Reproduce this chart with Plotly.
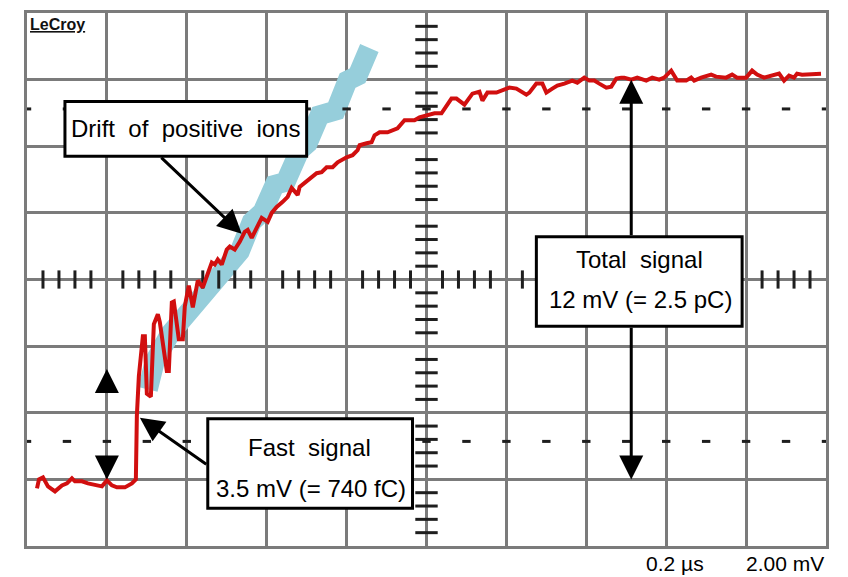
import numpy as np
import plotly.graph_objects as go

# ---------------- data (time in ns, 0.2 us/div; amplitude in mV, 2 mV/div) ----------------
t_signal = [25, 30, 40, 52.5, 70, 87.5, 100, 112.5, 120, 137.5, 152.5, 175, 187.5, 200, 212.5, 225, 245,
            262.5, 272.5,
            275, 280, 290, 295, 300, 310, 317.5, 327.5, 332.5, 350, 355, 362.5, 367.5, 380, 390, 395, 405,
            415, 427.5, 440,
            462.5, 470, 477.5, 487.5, 500, 507.5, 520, 532.5, 545, 552.5, 562.5, 575, 587.5, 595, 602.5,
            612.5, 625, 640, 652.5, 662.5, 670, 677.5, 682.5, 695, 707.5, 725, 737.5, 750,
            765, 777.5, 800, 815, 827.5, 832.5, 850, 862.5, 870, 882.5, 902.5, 915, 927.5, 945, 970, 982.5,
            1002.5, 1020, 1037.5, 1062.5, 1075, 1095, 1115, 1132.5, 1140, 1152.5, 1175, 1195, 1207.5, 1225,
            1250, 1257.5, 1275, 1290, 1300, 1315, 1327.5, 1345, 1365, 1377.5, 1395, 1407.5, 1420, 1432.5,
            1450, 1462.5, 1475, 1487.5, 1495, 1512.5, 1527.5, 1550, 1565, 1582.5, 1595, 1612.5, 1627.5,
            1650, 1662.5, 1670, 1687.5, 1712.5, 1725, 1750, 1765, 1777.5, 1800, 1815, 1827.5, 1845, 1870,
            1882.5, 1895, 1907.5, 1920, 1927.5, 1940, 1952.5, 1987.5]
v_signal = [-6.27, -6.00, -5.94, -6.21, -6.36, -6.18, -6.12, -5.97, -6.06, -6.06, -6.12, -6.18, -6.21, -6.03,
            -6.18, -6.24, -6.24, -6.12, -6.00,
            -4.09, -2.90, -1.70, -1.70, -3.43, -3.52, -1.34, -1.04, -1.28, -2.75, -2.75, -0.69, -0.66, -1.79,
            -1.79, -0.81, -0.18, -0.84, -0.03, -0.24,
            0.51, 0.45, 0.60, 0.45, 0.90, 0.99, 0.90, 1.13, 1.43, 1.49, 1.25, 1.58, 1.85, 1.79, 1.73,
            2.00, 2.18, 2.33, 2.48, 2.75, 2.63, 2.54, 2.78, 2.90, 2.99, 3.19, 3.22, 3.37,
            3.37, 3.52, 3.67, 3.73, 3.88, 4.03, 4.09, 4.12, 4.33, 4.42, 4.42, 4.48, 4.54, 4.78, 4.78, 4.87,
            4.93, 4.99, 4.99, 5.43, 5.43, 5.25, 5.58, 5.64, 5.37, 5.61, 5.61, 5.70, 5.76, 5.73,
            5.55, 5.61, 5.88, 5.88, 5.61, 5.73, 5.82, 5.88, 5.97, 5.91, 6.06, 5.97, 5.97, 5.88,
            5.76, 5.79, 6.03, 6.06, 6.06, 6.00, 6.06, 5.97, 6.06, 6.00, 6.06, 6.27, 5.97,
            5.97, 6.06, 5.97, 6.06, 6.15, 6.09, 6.06, 6.15, 6.06, 6.06, 6.27, 6.15, 6.06, 6.15,
            6.18, 5.97, 6.12, 6.06, 6.18, 6.15, 6.15, 6.18]

# light-blue drift curve (fit of positive-ion drift)
t_drift = [302.5, 320, 357.5, 407.5, 470, 532.5, 562.5, 590, 620, 647.5, 682.5, 702.5, 732.5, 772.5,
           802.5, 827.5, 857]
v_drift = [-3.30, -2.45, -1.64, -0.90, 0.00, 0.84, 1.73, 2.03, 2.84, 2.93, 3.88, 4.09, 4.93, 5.07,
           5.97, 6.12, 6.95]

cursor_levels = [5.12, -4.86]          # dashed cursor lines (mV)
time_label = "0.2 µs"
volt_label = "2.00 mV"

X_RANGE = [0, 2000]
Y_RANGE = [-8, 8]
X_DIV = 200
Y_DIV = 2

GRID = "#7b7b7b"
DARK = "#1e1e1e"
RED = "#d10f0f"
BLUE = "#96cedb"
FONT = "Liberation Sans, Arial, Helvetica, sans-serif"

fig = go.Figure()

# drift band
fig.add_trace(go.Scatter(x=t_drift, y=v_drift, mode="lines",
                         line=dict(color=BLUE, width=20), hoverinfo="skip"))

# minor ticks on the centre axes
x_mid = (X_RANGE[0] + X_RANGE[1]) / 2
y_mid = (Y_RANGE[0] + Y_RANGE[1]) / 2
xt = [X_RANGE[0] + k * X_DIV / 5 for k in range(1, 50) if k % 5 != 0]
yt = [Y_RANGE[0] + k * Y_DIV / 5 for k in range(1, 40) if k % 5 != 0]
fig.add_trace(go.Scatter(x=xt, y=[y_mid] * len(xt), mode="markers",
                         marker=dict(symbol="line-ns", size=13, line=dict(color=DARK, width=3)),
                         hoverinfo="skip"))
fig.add_trace(go.Scatter(x=[x_mid] * len(yt), y=yt, mode="markers",
                         marker=dict(symbol="line-ew", size=16, line=dict(color=DARK, width=3)),
                         hoverinfo="skip"))

# dashed cursor lines
xd = [X_RANGE[0] + k * X_DIV / 2 for k in range(0, 21)]
for lv in cursor_levels:
    fig.add_trace(go.Scatter(x=xd, y=[lv] * len(xd), mode="markers",
                             marker=dict(symbol="line-ew", size=6, line=dict(color=DARK, width=3)),
                             hoverinfo="skip"))

# signal trace
fig.add_trace(go.Scatter(x=t_signal, y=v_signal, mode="lines",
                         line=dict(color=RED, width=4), hoverinfo="skip"))

# label boxes
boxes = [(95, 700, 5.34, 3.70), (452.5, 965, -4.18, -6.87), (1275, 1790, 1.28, -1.40)]
shapes = []
for x0, x1, y0, y1 in boxes:
    shapes.append(dict(type="rect", xref="x", yref="y", x0=x0, x1=x1, y0=y0, y1=y1,
                       line=dict(color="black", width=3), fillcolor="white", layer="above"))

ann = []
def text(x, y, s, size=24):
    ann.append(dict(x=x, y=y, xref="x", yref="y", text=s, showarrow=False,
                    font=dict(family=FONT, size=size, color="black"),
                    xanchor="center", yanchor="middle"))

text(397.5, 4.52, "Drift  of  positive  ions")
text(707.5, -5.04, "Fast  signal")
text(710, -6.27, "3.5 mV (= 740 fC)")
text(1532.5, 0.60, "Total  signal")
text(1535, -0.60, "12 mV (= 2.5 pC)")

def arrow(xt_, yt_, xs, ys):
    ann.append(dict(x=xt_, y=yt_, ax=xs, ay=ys, xref="x", yref="y", axref="x", ayref="y",
                    text="", showarrow=True, arrowhead=2, arrowsize=1.6, arrowwidth=3,
                    arrowcolor="black", standoff=0))

arrow(537.5, 1.37, 332.5, 3.70)      # drift
arrow(282.5, -4.15, 452.5, -5.58)    # fast signal
arrow(1512.5, 6.0, 1512.5, 1.28)     # total up
arrow(1512.5, -6.0, 1512.5, -1.40)   # total down
arrow(200, -2.69, 200, -3.37)        # fast amplitude up
arrow(200, -6.0, 200, -5.34)         # fast amplitude down

# logo and scale readouts
ann.append(dict(x=0.001, y=0.999, xref="paper", yref="paper", text="<b><u>LeCroy</u></b>",
                showarrow=False, xanchor="left", yanchor="top",
                font=dict(family=FONT, size=16, color="#111111")))
ann.append(dict(x=0.811, y=-0.0578, xref="paper", yref="paper", text=time_label, showarrow=False,
                xanchor="center", yanchor="bottom", font=dict(family=FONT, size=21, color="black")))
ann.append(dict(x=0.9487, y=-0.0578, xref="paper", yref="paper", text=volt_label, showarrow=False,
                xanchor="center", yanchor="bottom", font=dict(family=FONT, size=21, color="black")))

axis_common = dict(showgrid=True, gridcolor=GRID, gridwidth=2.6, zeroline=False,
                   showticklabels=False, ticks="", showline=True, mirror=True,
                   linecolor=GRID, linewidth=3, fixedrange=True)

fig.update_layout(
    width=848, height=577,
    margin=dict(l=27, r=22, t=10, b=31),
    paper_bgcolor="white", plot_bgcolor="white",
    showlegend=False,
    xaxis=dict(range=X_RANGE, dtick=X_DIV, tick0=0, **axis_common),
    yaxis=dict(range=Y_RANGE, dtick=Y_DIV, tick0=0, **axis_common),
    shapes=shapes, annotations=ann,
)

fig.write_html("out.html")
